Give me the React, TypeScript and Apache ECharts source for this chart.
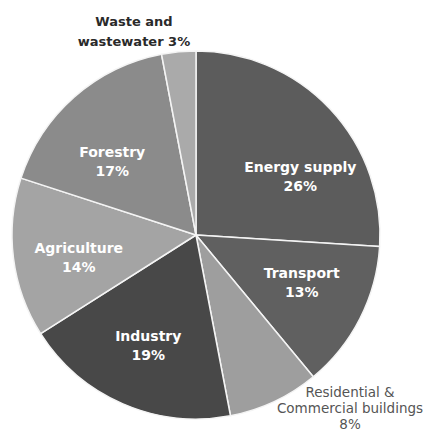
import React, { useEffect, useRef } from "react";
import * as echarts from "echarts";

// Greenhouse-gas emissions by sector (share of total, %)
const sectors = [
  "Energy supply",
  "Transport",
  "Residential &\nCommercial buildings",
  "Industry",
  "Agriculture",
  "Forestry",
  "Waste and\nwastewater",
];
const shares = [26, 13, 8, 19, 14, 17, 3];
const sectorColors = ["#5c5c5c", "#606060", "#9e9e9e", "#484848", "#a4a4a4", "#8b8b8b", "#aaaaaa"];

// sectors whose labels sit outside the pie
const outsideSectors = ["Residential &\nCommercial buildings", "Waste and\nwastewater"];

const CX = 196;
const CY = 235;
const R = 184;

// nudges that push inside labels a little further out from the centre
const insideOffsets: Record<string, [number, number]> = {
  "Energy supply": [35, 7],
  Transport: [21, 4],
  Industry: [-10, 23],
  Agriculture: [-23, 11],
  Forestry: [-21, -2],
};

export default function App() {
  const ref = useRef<HTMLDivElement>(null);

  useEffect(() => {
    document.body.style.margin = "0";
    if (!ref.current) return;
    const chart = echarts.init(ref.current, null, { renderer: "svg" });

    const data = sectors.map((name, i) => {
      const outside = outsideSectors.includes(name);
      return {
        name,
        value: shares[i],
        itemStyle: { color: sectorColors[i] },
        label: outside
          ? { show: false }
          : {
              show: true,
              position: "inside" as const,
              offset: insideOffsets[name] || [0, 0],
            },
      };
    });

    const wasteIdx = sectors.indexOf("Waste and\nwastewater");
    const resIdx = sectors.indexOf("Residential &\nCommercial buildings");
    const [wasteA, wasteB] = sectors[wasteIdx].split("\n");

    chart.setOption({
      animation: false,
      backgroundColor: "#ffffff",
      series: [
        {
          type: "pie",
          center: [CX, CY],
          radius: [0, R],
          startAngle: 90,
          clockwise: true,
          avoidLabelOverlap: false,
          itemStyle: { borderColor: "#f4f4f4", borderWidth: 1.5 },
          label: {
            color: "#ffffff",
            fontFamily: "DejaVu Sans",
            fontWeight: "bold",
            fontSize: 14,
            lineHeight: 19,
            formatter: (p: any) => `${p.name}\n${p.value}%`,
          },
          labelLine: { show: false },
          emphasis: { disabled: true },
          data,
        },
      ],
      graphic: [
        {
          type: "text",
          x: 134,
          y: 11,
          style: {
            text: `${wasteA}\n${wasteB} ${shares[wasteIdx]}%`,
            align: "center",
            verticalAlign: "top",
            fill: "#2a2a2a",
            font: "bold 13px DejaVu Sans",
            lineHeight: 20,
          },
        },
        {
          type: "text",
          x: 350,
          y: 384,
          style: {
            text: `${sectors[resIdx]}\n${shares[resIdx]}%`,
            align: "center",
            verticalAlign: "top",
            fill: "#555555",
            font: "13.5px DejaVu Sans",
            lineHeight: 16,
          },
        },
      ],
    });

    return () => chart.dispose();
  }, []);

  return <div ref={ref} style={{ width: 433, height: 433 }} />;
}
